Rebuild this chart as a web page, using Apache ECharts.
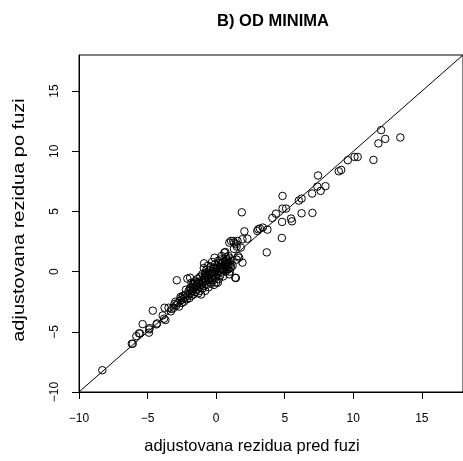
<!DOCTYPE html>
<html>
<head>
<meta charset="utf-8">
<script src="https://cdn.jsdelivr.net/npm/echarts@6/dist/echarts.min.js"></script>
<style>html,body{margin:0;padding:0;background:#fff;}#c{width:463px;height:461px;}</style>
</head>
<body>
<div id="c"></div>
<script>
// Tick values
var xTicks = [-10, -5, 0, 5, 10, 15];
var yTicks = [-10, -5, 0, 5, 10, 15];
// Reference line y = x (abline)
var refLine = [-10, 18];

// Low tail points (x = pred fuzi, y = po fuzi)
var lowX = [-8.30, -6.15, -6.08, -5.82, -5.62, -5.55, -5.36, -4.90, -4.88, -4.85, -4.62, -4.35, -4.30, -3.90, -3.80, -3.70, -3.76, -3.47, -3.24, -3.04, -2.97, -3.30, -3.10, -2.90, -2.80, -2.70, -2.60, -2.55, -2.50, -2.45, -2.40, -2.35, -2.30];
var lowY = [-8.19, -5.99, -5.99, -5.36, -5.13, -5.13, -4.36, -5.07, -4.80, -4.69, -3.24, -4.38, -4.30, -3.64, -3.91, -4.02, -3.00, -3.00, -3.10, -2.70, -2.50, -3.30, -3.00, -2.80, -2.60, -2.90, -2.40, -2.20, -2.60, -2.30, -2.00, -2.50, -2.20];

// Core cluster
var coreX = [-2.87, -2.20, -2.15, -2.10, -1.90, -1.80, -2.05, -2.00, -1.95, -1.90, -1.85, -1.80, -1.75, -1.70, -1.65, -1.60, -1.55, -1.50, -1.45, -1.40, -1.35, -1.30, -1.30, -1.25, -1.20, -1.20, -1.15, -1.10, -1.10, -1.05, -1.00, -1.00,
  -0.95, -0.90, -0.90, -0.88, -0.85, -0.80, -0.80, -0.75, -0.70, -0.70, -0.65, -0.60, -0.60, -0.55, -0.50, -0.50, -0.45, -0.40, -0.40, -0.35, -0.30, -0.30, -0.25, -0.20, -0.20, -0.15, -0.11, -0.10, -0.10, -0.05, 0.00, 0.00,
  0.05, 0.10, 0.12, 0.15, 0.20, 0.20, 0.25, 0.30, 0.30, 0.35, 0.40, 0.40, 0.45, 0.50, 0.50, 0.55, 0.60, 0.60, 0.65, 0.67, 0.70, 0.70, 0.75, 0.80, 0.80, 0.85, 0.90, 0.90, 0.96, 0.96, 1.00, 1.00, 1.05, 1.10, 1.08, 1.20,
  1.25, 1.32, 1.39, 1.44, 1.44, 1.50, 1.56, 1.60, 1.68, 1.80, 1.92, 1.92, 1.87, 2.06, 2.28, 1.30, 1.50,
  -1.60, -1.40, -1.20, -0.90, -0.80, -0.60, -0.50, -0.40, -0.30, -0.20, 0.10, 0.30, 0.50, 0.60, 0.70, 0.90, 1.00, 1.10, 0.20, -0.10, -0.70, -1.00, -1.50, -1.90, -2.20, -2.60, -1.70, -0.30, 0.40, 0.80];
var coreY = [-0.72, -1.90, -2.30, -0.58, -0.50, -0.92, -2.00, -1.60, -2.20, -1.80, -1.30, -2.00, -1.60, -1.10, -1.90, -1.40, -0.80, -1.70, -1.20, -1.50, -0.60, -1.00, -1.80, -1.30, -0.90, -1.60, -0.40, -1.10, -1.90, -0.70, -1.40, -0.20,
  -0.90, -1.20, 0.30, 0.69, -0.50, -1.60, -0.10, -0.80, 0.20, -1.10, -0.40, 0.50, -0.70, -1.30, -0.20, 0.10, -0.90, 0.40, -0.50, -1.00, 0.00, 0.80, -0.30, -0.70, 0.30, -1.10, 1.16, 0.00, 0.60, -0.50, 0.20, -0.90,
  0.50, -0.20, -0.92, 0.90, 0.10, -0.60, 0.40, 1.00, -0.30, 0.60, 0.00, 1.30, 0.30, 0.80, -0.40, 0.50, 1.58, 0.10, 0.90, 1.63, 0.40, 1.20, 0.70, 0.20, 1.00, 0.50, 1.30, 0.80, -0.22, 2.41, 0.60, 1.10, 0.30, 0.90, 2.55, 0.50,
  2.55, 2.41, -0.50, -0.53, 2.27, 1.00, 2.55, 1.30, 1.16, 2.00, 0.75, 2.69, 4.93, 3.35, 2.74, 1.90, 2.10,
  -1.00, -0.90, -0.50, -0.60, -0.30, -0.10, -0.60, -0.10, -0.70, -0.10, 0.30, 0.20, 0.20, 0.60, 0.00, 0.20, 0.00, 0.40, 0.70, -0.30, -0.20, -0.90, -1.20, -1.40, -1.50, -2.10, -1.30, -0.30, 0.70, 0.70];

// Upper tail
var highX = [3.00, 3.07, 3.19, 3.40, 3.74, 3.69, 4.10, 4.36, 4.84, 4.84, 5.10, 4.81, 4.79, 5.46, 5.53, 6.03, 6.23, 6.23, 7.00, 7.02, 7.43, 7.38, 7.62, 7.97, 8.94, 9.12, 9.60, 10.09, 10.32, 11.47, 11.83, 12.03, 12.33, 13.43];
var highY = [3.38, 3.52, 3.58, 3.66, 3.49, 1.60, 4.46, 4.82, 6.29, 5.24, 5.24, 4.13, 2.80, 4.41, 4.18, 5.90, 6.07, 4.85, 6.49, 4.88, 7.99, 7.07, 6.71, 7.10, 8.34, 8.45, 9.26, 9.53, 9.53, 9.28, 10.65, 11.76, 11.03, 11.15];

function pairs(xs, ys) { return xs.map(function (x, i) { return [x, ys[i]]; }); }
var pts = pairs(lowX, lowY).concat(pairs(coreX, coreY), pairs(highX, highY));
function fmt(v) { return v < 0 ? '\u2212' + Math.abs(v) : String(v); }

var chart = echarts.init(document.getElementById('c'), null, { renderer: 'canvas' });
var font = 'Liberation Sans, Arial, Helvetica, sans-serif';
chart.setOption({
  animation: false,
  backgroundColor: '#fff',
  title: {
    text: 'B) OD MINIMA', left: 273, top: 13, textAlign: 'center', padding: 0,
    textStyle: { fontFamily: font, fontSize: 16.5, fontWeight: 'bold', color: '#000' }
  },
  graphic: [{
    type: 'text', x: 20, y: 220, rotation: Math.PI / 2, scaleX: 1.25, silent: true,
    style: { text: 'adjustovana rezidua po fuzi', fontFamily: font, fontSize: 16, fill: '#000', align: 'center', verticalAlign: 'middle' }
  }],
  grid: { left: 79, top: 55, width: 390, height: 337, show: true, borderColor: '#000', borderWidth: 1, backgroundColor: 'transparent' },
  xAxis: {
    type: 'value', min: -10, max: 18,
    name: 'adjustovana rezidua pred fuzi', nameLocation: 'middle', nameGap: 46,
    nameTextStyle: { fontFamily: font, fontSize: 16.5, color: '#000', padding: [0, 38, 0, 0] },
    axisLine: { show: true, onZero: false, lineStyle: { color: '#000', width: 1 } },
    axisTick: { show: true, length: 7, lineStyle: { color: '#000' }, customValues: xTicks },
    axisLabel: { customValues: xTicks, formatter: fmt, fontFamily: font, fontSize: 12, color: '#000', margin: 21 },
    splitLine: { show: false }
  },
  yAxis: {
    type: 'value', min: -10, max: 18,
    axisLine: { show: true, onZero: false, lineStyle: { color: '#000', width: 1 } },
    axisTick: { show: true, length: 7, lineStyle: { color: '#000' }, customValues: yTicks },
    axisLabel: { customValues: yTicks, formatter: fmt, rotate: 90, fontFamily: font, fontSize: 12, color: '#000', margin: 18 },
    splitLine: { show: false }
  },
  series: [
    {
      type: 'line', data: [[refLine[0], refLine[0]], [refLine[1], refLine[1]]],
      showSymbol: false, symbol: 'none', lineStyle: { color: '#000', width: 1 }, silent: true, z: 1
    },
    {
      type: 'scatter', data: pts, symbol: 'circle', symbolSize: 7.5,
      itemStyle: { color: 'rgba(0,0,0,0)', borderColor: '#000', borderWidth: 1, opacity: 1 }, z: 2
    }
  ]
});
</script>
</body>
</html>
